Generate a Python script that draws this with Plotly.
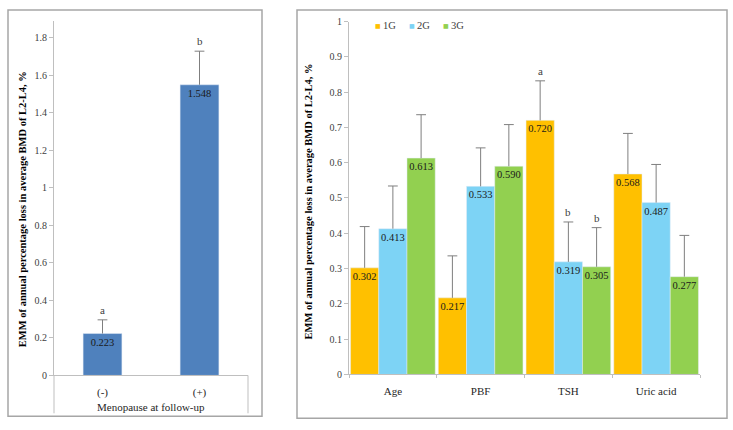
import plotly.graph_objects as go

# left panel: menopause at follow-up
meno_cats = ['(-)', '(+)']
meno_vals = [0.223, 1.548]
meno_err = [0.073, 0.179]
meno_letters = ['a', 'b']

# right panel: groups by factor
factors = ['Age', 'PBF', 'TSH', 'Uric acid']
groups = ['1G', '2G', '3G']
group_vals = [
    [0.302, 0.217, 0.720, 0.568],
    [0.413, 0.533, 0.319, 0.487],
    [0.613, 0.590, 0.305, 0.277],
]
group_err = [
    [0.117, 0.119, 0.112, 0.115],
    [0.121, 0.109, 0.113, 0.108],
    [0.123, 0.118, 0.111, 0.117],
]
group_letters = [
    ['', '', 'a', ''],
    ['', '', 'b', ''],
    ['', '', 'b', ''],
]
group_colors = ['#FFC000', '#7DD3F5', '#92D050']

FONT = "'Liberation Serif', 'Times New Roman', 'DejaVu Serif', serif"
W, H = 733, 430
ERRC = '#7F7F7F'


def px(x):
    return x / W


def py(y):
    return (H - y) / H


def err(a):
    # upper whisker only; the cap is drawn separately so none sits on the bar top
    return dict(type='data', symmetric=False, array=a, arrayminus=[0] * len(a),
                color=ERRC, thickness=1, width=0)


def caps(xs, tops, xa, ya):
    return go.Scatter(x=xs, y=tops, mode='markers', xaxis=xa, yaxis=ya, hoverinfo='skip',
                      marker=dict(symbol='line-ew', size=7, color=ERRC,
                                  line=dict(color=ERRC, width=1)),
                      showlegend=False)


fig = go.Figure()

fig.add_trace(go.Bar(
    x=meno_cats, y=meno_vals, width=0.4,
    marker_color='#4F81BD', xaxis='x', yaxis='y',
    error_y=err(meno_err),
    text=[f'{v:.3f}' for v in meno_vals], textposition='inside',
    insidetextanchor='end', constraintext='none', textangle=0,
    textfont=dict(family=FONT, size=10.5, color='#1a1a1a'),
    showlegend=False,
))
fig.add_trace(caps(list(range(len(meno_cats))),
                   [v + e for v, e in zip(meno_vals, meno_err)], 'x3', 'y'))

bargap = 0.035
bw = (1 - bargap) / len(groups)
for i, g in enumerate(groups):
    fig.add_trace(go.Bar(
        x=factors, y=group_vals[i], name=g,
        marker_color=group_colors[i], xaxis='x2', yaxis='y2',
        error_y=err(group_err[i]),
        text=[f'{v:.3f}' for v in group_vals[i]], textposition='inside',
        insidetextanchor='end', constraintext='none', textangle=0,
        textfont=dict(family=FONT, size=10.5, color='#1a1a1a'),
        showlegend=False,
    ))
    fig.add_trace(caps([j + (i - 1) * bw for j in range(len(factors))],
                       [v + e for v, e in zip(group_vals[i], group_err[i])], 'x4', 'y2'))

annotations = []
# significance letters
for j, c in enumerate(meno_cats):
    annotations.append(dict(x=j, y=meno_vals[j] + meno_err[j], xref='x', yref='y',
                            text=meno_letters[j], showarrow=False, yanchor='bottom', yshift=2,
                            font=dict(family=FONT, size=11, color='#404040')))
for i in range(len(groups)):
    for j in range(len(factors)):
        if group_letters[i][j]:
            annotations.append(dict(x=j + (i - 1) * bw, y=group_vals[i][j] + group_err[i][j],
                                    xref='x2', yref='y2', text=group_letters[i][j],
                                    showarrow=False, yanchor='bottom', yshift=2,
                                    font=dict(family=FONT, size=11, color='#404040')))

ytitle = 'EMM of annual percentage loss in average BMD of L2-L4, %'
annotations.append(dict(x=px(22), y=py(209), xref='paper', yref='paper', text=f'<b>{ytitle}</b>',
                        textangle=-90, showarrow=False, xanchor='center', yanchor='middle',
                        font=dict(family=FONT, size=10.5, color='#000')))
annotations.append(dict(x=px(308), y=py(201), xref='paper', yref='paper', text=f'<b>{ytitle}</b>',
                        textangle=-90, showarrow=False, xanchor='center', yanchor='middle',
                        font=dict(family=FONT, size=10.5, color='#000')))
annotations.append(dict(x=0.5, y=py(413), xref='x domain', yref='paper', text='Menopause at follow-up',
                        showarrow=False, xanchor='center', yanchor='middle',
                        font=dict(family=FONT, size=11, color='#262626')))

# legend drawn by hand
leg_x = [378, 412, 446]
for i, g in enumerate(groups):
    annotations.append(dict(x=px(leg_x[i]), y=py(20), xref='paper', yref='paper', text='■',
                            showarrow=False, xanchor='center', yanchor='middle',
                            font=dict(family='DejaVu Sans', size=6, color=group_colors[i])))
    annotations.append(dict(x=px(leg_x[i] + 3), y=py(20), xref='paper', yref='paper', text=g,
                            showarrow=False, xanchor='left', yanchor='middle',
                            font=dict(family=FONT, size=10.5, color='#404040')))

shapes = [
    dict(type='rect', xref='paper', yref='paper', x0=px(8), x1=px(262), y0=py(422), y1=py(4),
         line=dict(color='#A6A6A6', width=1.5)),
    dict(type='rect', xref='paper', yref='paper', x0=px(297), x1=px(727), y0=py(424), y1=py(4),
         line=dict(color='#A6A6A6', width=1.5)),
    dict(type='line', xref='x domain', yref='paper', x0=0, x1=0, y0=py(419), y1=py(380),
         line=dict(color='#BFBFBF', width=1)),
    dict(type='line', xref='x domain', yref='paper', x0=1, x1=1, y0=py(419), y1=py(380),
         line=dict(color='#BFBFBF', width=1)),
]

axis_common = dict(showgrid=False, zeroline=False, showline=True, linecolor='#BFBFBF', linewidth=1)

fig.update_layout(
    width=W, height=H, margin=dict(l=0, r=0, t=0, b=0),
    paper_bgcolor='white', plot_bgcolor='white',
    barmode='group', bargap=bargap, bargroupgap=0,
    font=dict(family=FONT),
    xaxis=dict(domain=[px(54), px(248)], anchor='y', type='category', ticks='',
               ticklabelstandoff=6,
               tickfont=dict(family=FONT, size=11, color='#262626'), **axis_common),
    yaxis=dict(domain=[py(380), py(15)], anchor='x', range=[0, 1.89], dtick=0.2,
               ticks='outside', ticklen=4, tickcolor='#BFBFBF',
               tickfont=dict(family=FONT, size=10, color='#404040'), **axis_common),
    xaxis2=dict(domain=[px(349), px(700)], anchor='y2', type='category', ticks='outside',
                tickson='boundaries', ticklen=3, tickcolor='#BFBFBF', ticklabelstandoff=6,
                tickfont=dict(family=FONT, size=11, color='#262626'), **axis_common),
    yaxis2=dict(domain=[py(379), py(16)], anchor='x2', range=[0, 1], dtick=0.1,
                ticks='outside', ticklen=4, tickcolor='#BFBFBF',
                tickfont=dict(family=FONT, size=10, color='#404040'), **axis_common),
    # hidden linear twins used to place the error-bar caps
    xaxis3=dict(overlaying='x', anchor='y', range=[-0.5, len(meno_cats) - 0.5], visible=False),
    xaxis4=dict(overlaying='x2', anchor='y2', range=[-0.5, len(factors) - 0.5], visible=False),
    annotations=annotations, shapes=shapes,
)

fig.write_html('out.html', config={'displayModeBar': False},
               post_script="document.body.style.margin='0';")
